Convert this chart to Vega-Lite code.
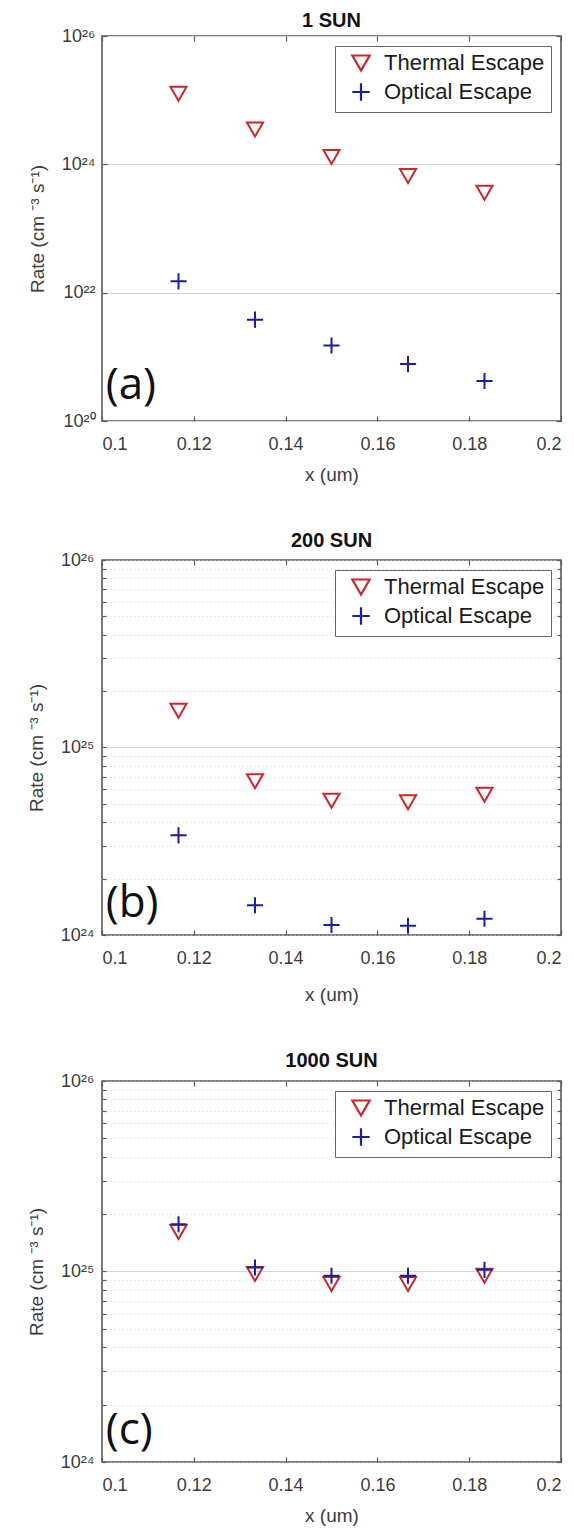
{
  "$schema": "https://vega.github.io/schema/vega-lite/v6.json",
  "padding": {"left": 26, "top": 10, "right": 5, "bottom": 0},
  "background": "white",
  "config": {
    "font": "Liberation Sans",
    "view": {"stroke": "#595959", "strokeWidth": 1.6},
    "axis": {
      "labelFont": "Liberation Sans", "labelFontSize": 18, "labelColor": "#3c3c3c",
      "titleFont": "Liberation Sans", "titleFontSize": 19, "titleFontWeight": "normal", "titleColor": "#3c3c3c",
      "domain": false, "tickColor": "#595959", "tickWidth": 1.2, "gridColor": "#d4d4d4", "gridWidth": 1
    },
    "title": {"font": "Liberation Sans", "fontSize": 20, "fontWeight": "bold", "color": "#111111"},
    "legend": {
      "orient": "top-right", "offset": 10, "labelFont": "Liberation Sans", "labelFontSize": 22, "labelColor": "#1a1a1a", "labelLimit": 400,
      "strokeColor": "#666666", "fillColor": "white", "padding": 6, "rowPadding": 3,
      "symbolStrokeWidth": 2.2, "symbolSize": 300, "symbolOffset": 9, "labelOffset": 12
    }
  },
  "spacing": 45,
  "resolve": {"scale": {"color": "independent", "shape": "independent"}, "legend": {"color": "independent", "shape": "independent"}},
  "vconcat": [
    {
      "width": 459, "height": 385,
      "title": {"text": "1 SUN", "offset": -4},
      "data": {"values": [
        {"x": 0.11667, "rate": 1.26e25, "series": "Thermal Escape"},
        {"x": 0.13333, "rate": 3.5e24, "series": "Thermal Escape"},
        {"x": 0.15, "rate": 1.3e24, "series": "Thermal Escape"},
        {"x": 0.16667, "rate": 6.6e23, "series": "Thermal Escape"},
        {"x": 0.18333, "rate": 3.6e23, "series": "Thermal Escape"},
        {"x": 0.11667, "rate": 1.5e22, "series": "Optical Escape"},
        {"x": 0.13333, "rate": 3.8e21, "series": "Optical Escape"},
        {"x": 0.15, "rate": 1.5e21, "series": "Optical Escape"},
        {"x": 0.16667, "rate": 7.7e20, "series": "Optical Escape"},
        {"x": 0.18333, "rate": 4.2e20, "series": "Optical Escape"}
      ]},
      "layer": [
        {
          "mark": {"type": "point", "filled": false, "strokeWidth": 2, "size": 260, "opacity": 1},
          "encoding": {
            "x": {"field": "x", "type": "quantitative", "scale": {"domain": [0.1, 0.2], "nice": false, "zero": false},
              "axis": {"orient": "bottom", "values": [0.1, 0.12, 0.14, 0.16, 0.18, 0.2], "format": ".2~f", "title": "x (um)", "grid": false, "tickSize": -5, "labelPadding": 19, "titlePadding": 12}},
            "y": {"field": "rate", "type": "quantitative", "scale": {"type": "log", "domain": [1e20, 1e26], "nice": false},
              "axis": {"orient": "left", "values": [1e20, 1e22, 1e24, 1e26], "labelExpr": "datum.value > 5e25 ? '10²⁶' : datum.value > 5e23 ? '10²⁴' : datum.value > 5e21 ? '10²²' : '10²⁰'", "title": "Rate (cm ⁻³ s⁻¹)", "grid": true, "tickSize": -5, "labelPadding": 12, "titlePadding": 14}},
            "color": {"field": "series", "type": "nominal", "scale": {"domain": ["Thermal Escape", "Optical Escape"], "range": ["#c8282d", "#1c1c9e"]}, "legend": {"title": null}},
            "shape": {"field": "series", "type": "nominal", "scale": {"domain": ["Thermal Escape", "Optical Escape"], "range": ["triangle-down", "M-1,0H1M0,-1V1"]}, "legend": {"title": null}}
          }
        },
        {
          "data": {"values": [{"x": 0.1008, "rate": 2.2e20, "label": "(a)"}]},
          "mark": {"type": "text", "align": "left", "baseline": "alphabetic", "font": "Open Sans", "fontSize": 44, "color": "#111111"},
          "encoding": {
            "x": {"field": "x", "type": "quantitative", "axis": {"orient": "top", "values": [0.1, 0.12, 0.14, 0.16, 0.18, 0.2], "labels": false, "title": null, "grid": false, "tickSize": -5}},
            "y": {"field": "rate", "type": "quantitative", "axis": {"orient": "right", "values": [1e20, 1e22, 1e24, 1e26], "labels": false, "title": null, "grid": false, "tickSize": -5}},
            "text": {"field": "label"}
          }
        }
      ],
      "resolve": {"axis": {"x": "independent", "y": "independent"}}
    },
    {
      "width": 459, "height": 375,
      "title": {"text": "200 SUN", "offset": 0},
      "data": {"values": [
        {"x": 0.11667, "rate": 1.57e25, "series": "Thermal Escape"},
        {"x": 0.13333, "rate": 6.6e24, "series": "Thermal Escape"},
        {"x": 0.15, "rate": 5.2e24, "series": "Thermal Escape"},
        {"x": 0.16667, "rate": 5.1e24, "series": "Thermal Escape"},
        {"x": 0.18333, "rate": 5.6e24, "series": "Thermal Escape"},
        {"x": 0.11667, "rate": 3.4e24, "series": "Optical Escape"},
        {"x": 0.13333, "rate": 1.44e24, "series": "Optical Escape"},
        {"x": 0.15, "rate": 1.13e24, "series": "Optical Escape"},
        {"x": 0.16667, "rate": 1.12e24, "series": "Optical Escape"},
        {"x": 0.18333, "rate": 1.22e24, "series": "Optical Escape"}
      ]},
      "layer": [
        {
          "mark": {"type": "point", "filled": false, "strokeWidth": 2, "size": 260, "opacity": 1},
          "encoding": {
            "x": {"field": "x", "type": "quantitative", "scale": {"domain": [0.1, 0.2], "nice": false, "zero": false},
              "axis": {"orient": "bottom", "values": [0.1, 0.12, 0.14, 0.16, 0.18, 0.2], "format": ".2~f", "title": "x (um)", "grid": false, "tickSize": -5, "labelPadding": 19, "titlePadding": 18}},
            "y": {"field": "rate", "type": "quantitative", "scale": {"type": "log", "domain": [1e24, 1e26], "nice": false},
              "axis": {"orient": "left", "values": [1e24, 2e24, 3e24, 4e24, 5e24, 6e24, 7e24, 8e24, 9e24, 1e25, 2e25, 3e25, 4e25, 5e25, 6e25, 7e25, 8e25, 9e25, 1e26],
                "labelExpr": "abs(datum.value - 1e26) < 1e23 ? '10²⁶' : abs(datum.value - 1e25) < 1e22 ? '10²⁵' : abs(datum.value - 1e24) < 1e21 ? '10²⁴' : ''",
                "gridDash": {"condition": {"test": "abs(datum.value - 1e25) < 1e22", "value": []}, "value": [1, 3]},
                "title": "Rate (cm ⁻³ s⁻¹)", "grid": true, "tickSize": -4, "labelPadding": 12, "titlePadding": 14}},
            "color": {"field": "series", "type": "nominal", "scale": {"domain": ["Thermal Escape", "Optical Escape"], "range": ["#c8282d", "#1c1c9e"]}, "legend": {"title": null}},
            "shape": {"field": "series", "type": "nominal", "scale": {"domain": ["Thermal Escape", "Optical Escape"], "range": ["triangle-down", "M-1,0H1M0,-1V1"]}, "legend": {"title": null}}
          }
        },
        {
          "data": {"values": [{"x": 0.1008, "rate": 1.25e24, "label": "(b)"}]},
          "mark": {"type": "text", "align": "left", "baseline": "alphabetic", "font": "Open Sans", "fontSize": 44, "color": "#111111"},
          "encoding": {
            "x": {"field": "x", "type": "quantitative", "axis": {"orient": "top", "values": [0.1, 0.12, 0.14, 0.16, 0.18, 0.2], "labels": false, "title": null, "grid": false, "tickSize": -5}},
            "y": {"field": "rate", "type": "quantitative", "axis": {"orient": "right", "values": [1e24, 2e24, 3e24, 4e24, 5e24, 6e24, 7e24, 8e24, 9e24, 1e25, 2e25, 3e25, 4e25, 5e25, 6e25, 7e25, 8e25, 9e25, 1e26], "labels": false, "title": null, "grid": false, "tickSize": -4}},
            "text": {"field": "label"}
          }
        }
      ],
      "resolve": {"axis": {"x": "independent", "y": "independent"}}
    },
    {
      "width": 459, "height": 381,
      "title": {"text": "1000 SUN", "offset": 1},
      "data": {"values": [
        {"x": 0.11667, "rate": 1.61e25, "series": "Thermal Escape"},
        {"x": 0.13333, "rate": 9.7e24, "series": "Thermal Escape"},
        {"x": 0.15, "rate": 8.6e24, "series": "Thermal Escape"},
        {"x": 0.16667, "rate": 8.6e24, "series": "Thermal Escape"},
        {"x": 0.18333, "rate": 9.5e24, "series": "Thermal Escape"},
        {"x": 0.11667, "rate": 1.77e25, "series": "Optical Escape"},
        {"x": 0.13333, "rate": 1.05e25, "series": "Optical Escape"},
        {"x": 0.15, "rate": 9.5e24, "series": "Optical Escape"},
        {"x": 0.16667, "rate": 9.5e24, "series": "Optical Escape"},
        {"x": 0.18333, "rate": 1.02e25, "series": "Optical Escape"}
      ]},
      "layer": [
        {
          "mark": {"type": "point", "filled": false, "strokeWidth": 2, "size": 260, "opacity": 1},
          "encoding": {
            "x": {"field": "x", "type": "quantitative", "scale": {"domain": [0.1, 0.2], "nice": false, "zero": false},
              "axis": {"orient": "bottom", "values": [0.1, 0.12, 0.14, 0.16, 0.18, 0.2], "format": ".2~f", "title": "x (um)", "grid": false, "tickSize": -5, "labelPadding": 19, "titlePadding": 12}},
            "y": {"field": "rate", "type": "quantitative", "scale": {"type": "log", "domain": [1e24, 1e26], "nice": false},
              "axis": {"orient": "left", "values": [1e24, 2e24, 3e24, 4e24, 5e24, 6e24, 7e24, 8e24, 9e24, 1e25, 2e25, 3e25, 4e25, 5e25, 6e25, 7e25, 8e25, 9e25, 1e26],
                "labelExpr": "abs(datum.value - 1e26) < 1e23 ? '10²⁶' : abs(datum.value - 1e25) < 1e22 ? '10²⁵' : abs(datum.value - 1e24) < 1e21 ? '10²⁴' : ''",
                "gridDash": {"condition": {"test": "abs(datum.value - 1e25) < 1e22", "value": []}, "value": [1, 3]},
                "title": "Rate (cm ⁻³ s⁻¹)", "grid": true, "tickSize": -4, "labelPadding": 12, "titlePadding": 14}},
            "color": {"field": "series", "type": "nominal", "scale": {"domain": ["Thermal Escape", "Optical Escape"], "range": ["#c8282d", "#1c1c9e"]}, "legend": {"title": null}},
            "shape": {"field": "series", "type": "nominal", "scale": {"domain": ["Thermal Escape", "Optical Escape"], "range": ["triangle-down", "M-1,0H1M0,-1V1"]}, "legend": {"title": null}}
          }
        },
        {
          "data": {"values": [{"x": 0.1008, "rate": 1.25e24, "label": "(c)"}]},
          "mark": {"type": "text", "align": "left", "baseline": "alphabetic", "font": "Open Sans", "fontSize": 44, "color": "#111111"},
          "encoding": {
            "x": {"field": "x", "type": "quantitative", "axis": {"orient": "top", "values": [0.1, 0.12, 0.14, 0.16, 0.18, 0.2], "labels": false, "title": null, "grid": false, "tickSize": -5}},
            "y": {"field": "rate", "type": "quantitative", "axis": {"orient": "right", "values": [1e24, 2e24, 3e24, 4e24, 5e24, 6e24, 7e24, 8e24, 9e24, 1e25, 2e25, 3e25, 4e25, 5e25, 6e25, 7e25, 8e25, 9e25, 1e26], "labels": false, "title": null, "grid": false, "tickSize": -4}},
            "text": {"field": "label"}
          }
        }
      ],
      "resolve": {"axis": {"x": "independent", "y": "independent"}}
    }
  ]
}
